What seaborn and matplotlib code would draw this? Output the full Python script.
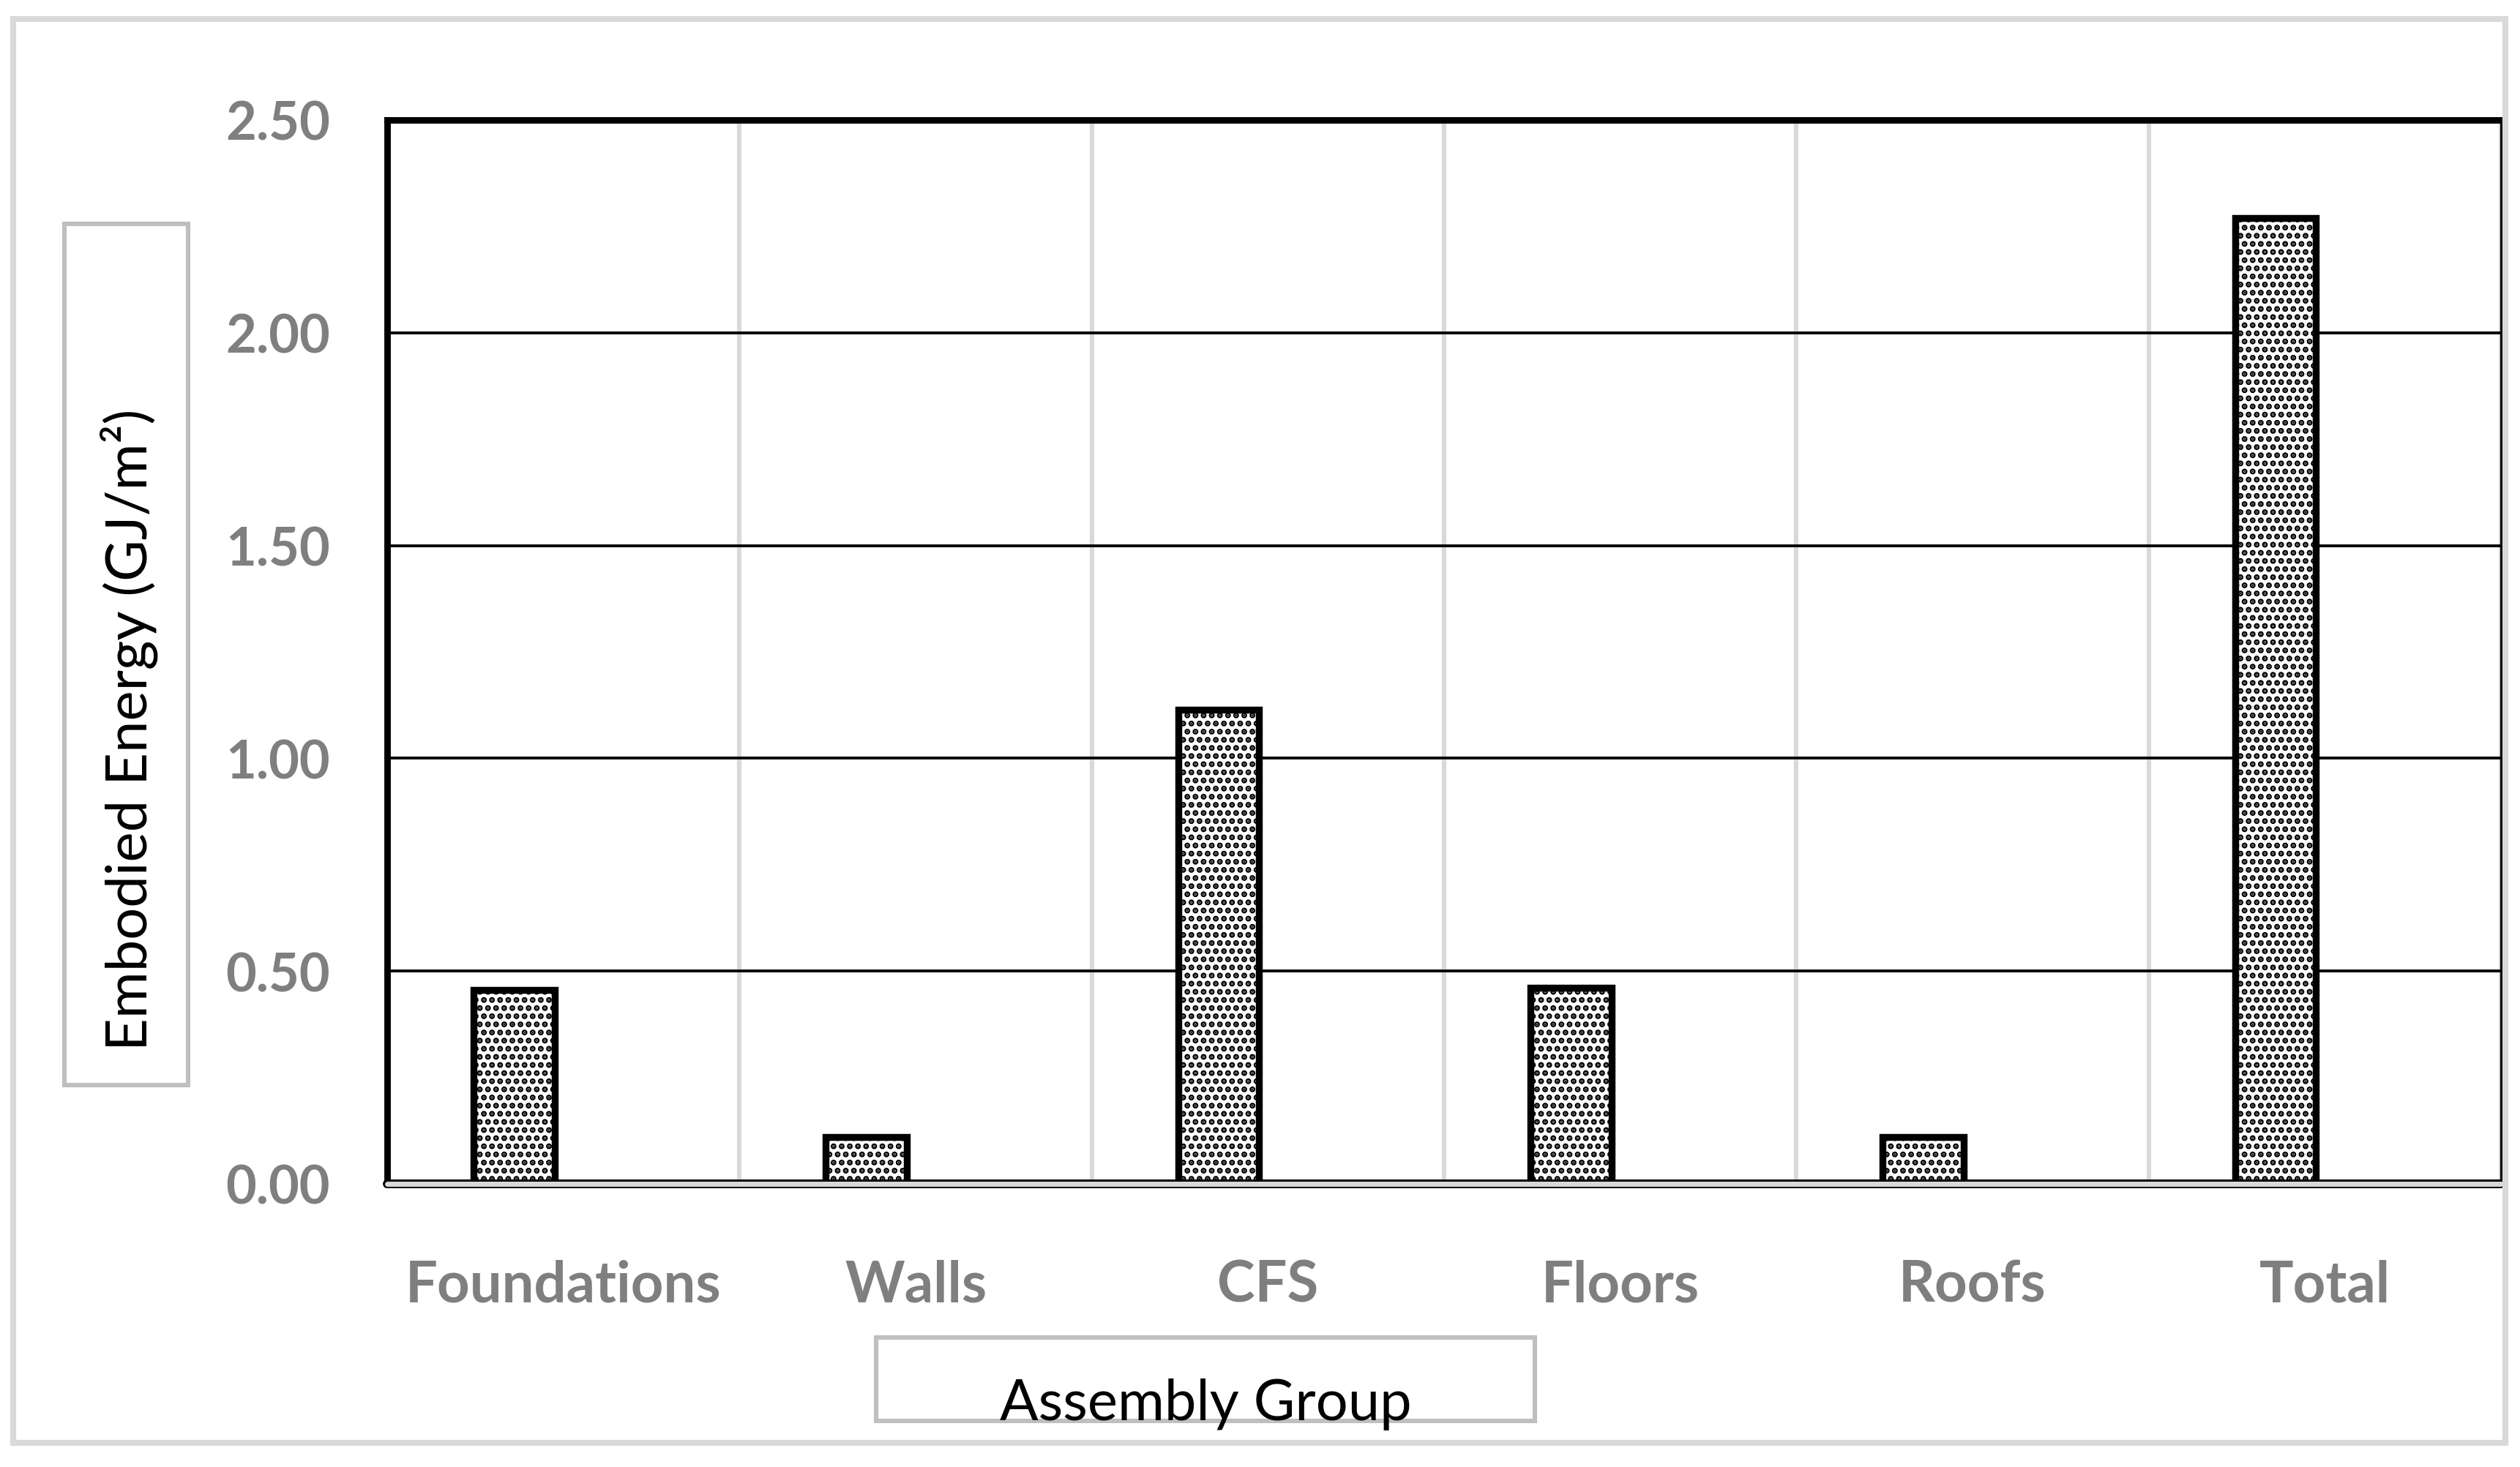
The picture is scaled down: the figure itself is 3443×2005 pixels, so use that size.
import matplotlib
matplotlib.use("Agg")
import matplotlib.pyplot as plt
from matplotlib.patches import Rectangle
import numpy as np
import pandas as pd
import seaborn as sns

# data
groups = ["Foundations", "Walls", "CFS", "Floors", "Roofs", "Total"]
embodied_energy = [0.455, 0.11, 1.115, 0.46, 0.11, 2.27]
series_order = ["Embodied Energy", "(empty)"]   # second slot left empty as in the original
y_ticks = [0.0, 0.5, 1.0, 1.5, 2.0, 2.5]

df = pd.DataFrame({
    "group": groups,
    "value": embodied_energy,
    "series": series_order[0],
})

sns.set_theme(style="white")
plt.rcParams["font.family"] = ["Lato", "DejaVu Sans"]
plt.rcParams["hatch.color"] = "black"
plt.rcParams["hatch.linewidth"] = 2.0

W, H = 3443, 2006
dpi = 200
fig = plt.figure(figsize=(W / dpi, H / dpi), dpi=dpi)
fig.patch.set_facecolor("white")

# plot area
left, right, top, bottom = 529, 3417, 165, 1619
ax = fig.add_axes([left / W, 1 - bottom / H, (right - left) / W, (bottom - top) / H])

sns.barplot(
    data=df, x="group", y="value", hue="series",
    order=groups, hue_order=series_order,
    palette={series_order[0]: "white", series_order[1]: "white"},
    width=0.56, gap=0.18, dodge=True, legend=False,
    edgecolor="black", linewidth=3.4, hatch="...",
    ax=ax, zorder=3,
)

ax.set_xlim(-0.5, len(groups) - 0.5)
ax.set_ylim(0, 2.5)
ax.set_yticks(y_ticks)
ax.set_yticklabels([f"{t:.2f}" for t in y_ticks])

# gridlines: black horizontal, light gray vertical between categories
ax.set_xticks(np.arange(len(groups)) + 0.5, minor=True)
ax.grid(axis="y", which="major", color="black", linewidth=1.4, zorder=1)
ax.grid(axis="x", which="minor", color="#d9d9d9", linewidth=2.2, zorder=1)
ax.grid(axis="x", which="major", visible=False)
ax.set_axisbelow(True)

# spines
for s in ["left", "top"]:
    ax.spines[s].set_color("black")
    ax.spines[s].set_linewidth(3.2)
ax.spines["right"].set_color("black")
ax.spines["right"].set_linewidth(1.1)
ax.spines["bottom"].set_visible(False)

# baseline: gray band with black outline
ax.axhline(0, color="black", linewidth=4.3, zorder=4, clip_on=False)
ax.axhline(0, color="#d9d9d9", linewidth=2.5, zorder=5, clip_on=False)

ax.tick_params(axis="both", which="both", length=0)
ax.tick_params(axis="y", pad=28, labelsize=26, labelcolor="#7f7f7f")
ax.tick_params(axis="x", pad=37, labelsize=28, labelcolor="#7f7f7f")
for lab in ax.get_xticklabels() + ax.get_yticklabels():
    lab.set_fontweight("bold")
ax.set_xlabel("")
ax.set_ylabel("")

# axis title boxes
box_kw = dict(transform=fig.transFigure, fill=False, edgecolor="#bfbfbf", linewidth=2.2)
fig.patches.append(Rectangle((88 / W, 1 - 1484 / H), 169 / W, 1177 / H, **box_kw))
fig.patches.append(Rectangle((1197 / W, 1 - 1943 / H), 900 / W, 114 / H, **box_kw))

fig.text(176 / W, 1 - 997 / H, "Embodied Energy (GJ/m²)", rotation=90,
         ha="center", va="center", fontsize=28, color="black")
fig.text(1647 / W, 1 - 1941 / H, "Assembly Group",
         ha="center", va="baseline", fontsize=28, color="black")

# outer frame
fig.patches.append(Rectangle((18 / W, 1 - 1973 / H), 3405 / W, 1946 / H,
                             transform=fig.transFigure, fill=False,
                             edgecolor="#d9d9d9", linewidth=2.9))

fig.savefig("out.png", dpi=dpi)
plt.close(fig)
